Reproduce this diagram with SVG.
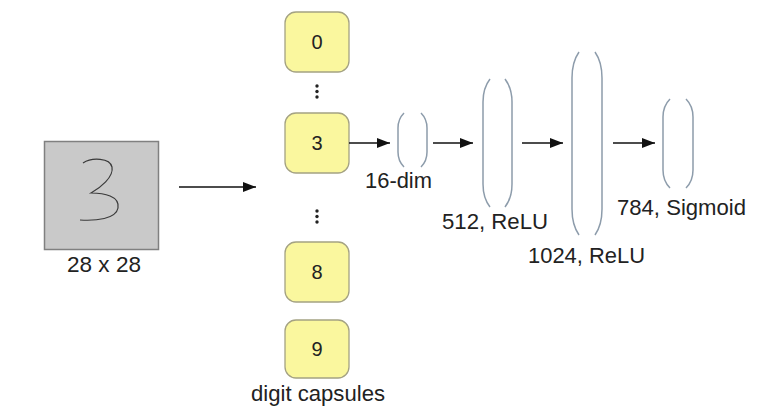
<svg xmlns="http://www.w3.org/2000/svg" width="760" height="420" viewBox="0 0 760 420">
  <defs>
    <marker id="head" viewBox="0 0 13 10" refX="13" refY="5" markerWidth="13" markerHeight="10" markerUnits="userSpaceOnUse" orient="auto">
      <path d="M0,0 L13,5 L0,10 Z" fill="#111"/>
    </marker>
    <style>
      text { font-family: "Liberation Sans", Arial, sans-serif; fill: #222; }
      .lbl { font-size: 22px; }
      .dig { font-size: 20px; text-anchor: middle; }
      .caps rect { fill: #faf79e; stroke: #a4a283; stroke-width: 1.3; }
      .layer path { fill: none; stroke: #8d9cab; stroke-width: 1.5; }
      .conn line { stroke: #111; stroke-width: 1.3; marker-end: url(#head); }
      .dots circle { fill: #222; }
    </style>
  </defs>

  <rect width="760" height="420" fill="#ffffff"/>

  <!-- input image -->
  <g id="input">
    <rect x="44.5" y="141.5" width="114" height="108" fill="#c9c9c9" stroke="#808080" stroke-width="1.5"/>
    <path d="M83,163 C92,157 110,158 112,167 C114,177 100,188 91,193 C104,193 120,196 118,208 C116,219 96,221 80,220" fill="none" stroke="#3a3a3a" stroke-width="1.2"/>
    <text class="lbl" x="67" y="272" textLength="74" lengthAdjust="spacingAndGlyphs">28 x 28</text>
  </g>

  <!-- digit capsules -->
  <g id="capsule-0" class="caps">
    <rect x="285" y="12" width="64" height="60" rx="11"/>
    <text class="dig" x="317" y="49">0</text>
  </g>
  <g id="capsule-3" class="caps">
    <rect x="285" y="113" width="64" height="60" rx="11"/>
    <text class="dig" x="317" y="150">3</text>
  </g>
  <g id="capsule-8" class="caps">
    <rect x="285" y="242" width="64" height="60" rx="11"/>
    <text class="dig" x="317" y="279">8</text>
  </g>
  <g id="capsule-9" class="caps">
    <rect x="285" y="320" width="64" height="58" rx="11"/>
    <text class="dig" x="317" y="356">9</text>
  </g>
  <g id="ellipsis" class="dots">
    <circle cx="317" cy="86" r="1.7"/>
    <circle cx="317" cy="91.5" r="1.7"/>
    <circle cx="317" cy="97" r="1.7"/>
    <circle cx="317" cy="211" r="1.7"/>
    <circle cx="317" cy="216.5" r="1.7"/>
    <circle cx="317" cy="222" r="1.7"/>
  </g>
  <text class="lbl" x="251" y="401" textLength="134" lengthAdjust="spacingAndGlyphs">digit capsules</text>

  <!-- decoder layers -->
  <g id="layer-16" class="layer">
    <path d="M404,113 Q398,119 398,128 L398,152 Q398,161 404,167"/>
    <path d="M421,113 Q427,119 427,128 L427,152 Q427,161 421,167"/>
    <text class="lbl" x="365" y="188" textLength="67" lengthAdjust="spacingAndGlyphs">16-dim</text>
  </g>
  <g id="layer-512" class="layer">
    <path d="M490,79 Q483,88 483,102 L483,184 Q483,198 490,207"/>
    <path d="M505,79 Q512,88 512,102 L512,184 Q512,198 505,207"/>
    <text class="lbl" x="442" y="229" textLength="106" lengthAdjust="spacingAndGlyphs">512, ReLU</text>
  </g>
  <g id="layer-1024" class="layer">
    <path d="M579,52 Q572,62 572,78 L572,209 Q572,225 579,235"/>
    <path d="M595,52 Q602,62 602,78 L602,209 Q602,225 595,235"/>
    <text class="lbl" x="528" y="263" textLength="117" lengthAdjust="spacingAndGlyphs">1024, ReLU</text>
  </g>
  <g id="layer-784" class="layer">
    <path d="M670,99 Q663,106 663,117 L663,170 Q663,181 670,188"/>
    <path d="M686,99 Q693,106 693,117 L693,170 Q693,181 686,188"/>
    <text class="lbl" x="617" y="215" textLength="129" lengthAdjust="spacingAndGlyphs">784, Sigmoid</text>
  </g>

  <!-- connectors -->
  <g id="connectors" class="conn">
    <line x1="179" y1="187" x2="256" y2="187"/>
    <line x1="349" y1="143" x2="390" y2="143"/>
    <line x1="433" y1="143" x2="473" y2="143"/>
    <line x1="522" y1="143" x2="563" y2="143"/>
    <line x1="613" y1="143" x2="655" y2="143"/>
  </g>
</svg>
